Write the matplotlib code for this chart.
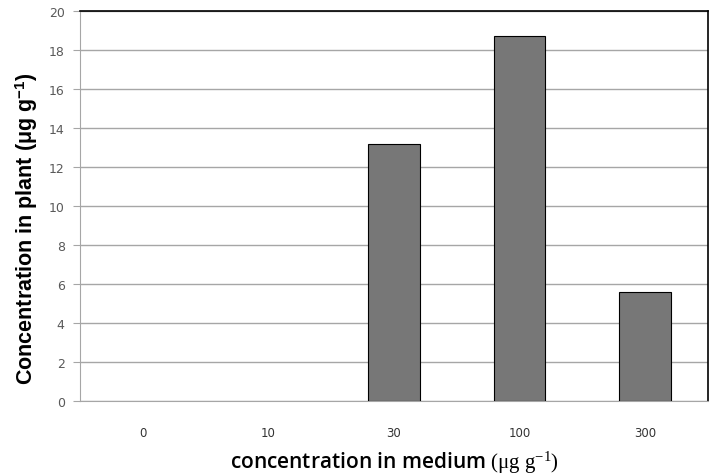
import matplotlib.pyplot as plt
import numpy as np

plt.rcParams['mathtext.fontset'] = 'custom'
plt.rcParams['mathtext.rm'] = 'Liberation Serif'
plt.rcParams['mathtext.bf'] = 'Liberation Sans:bold'
plt.rcParams['mathtext.it'] = 'Liberation Serif:italic'

# data
doses = ["0", "10", "30", "100", "300"]
plant_conc = [0.0, 0.0, 13.2, 18.7, 5.6]

fig = plt.figure(figsize=(7.18, 4.77), dpi=100)
ax = fig.add_axes([0.1114, 0.1572, 0.8746, 0.8176])

x = np.arange(len(doses))
edges = ['black' if v > 0 else 'none' for v in plant_conc]
ax.bar(x, plant_conc, width=0.41, color='#777777', edgecolor=edges, linewidth=0.8, zorder=3)

ax.set_xlim(-0.5, len(doses) - 0.5)
ax.set_ylim(0, 20)
ax.set_yticks(np.arange(0, 21, 2))
ax.set_xticks(x)
ax.set_xticklabels(doses)
ax.grid(axis='y', color='#a6a6a6', linewidth=1, zorder=0)

for s in ['left', 'bottom']:
    ax.spines[s].set_color('#a6a6a6')
for s in ['top', 'right']:
    ax.spines[s].set_color('black')
    ax.spines[s].set_linewidth(1.2)

ax.tick_params(axis='y', colors='#a6a6a6', labelcolor='#595959', labelsize=9, length=5, pad=6)
ax.tick_params(axis='x', length=0, labelcolor='#333333', labelsize=8.5, pad=18)
for t in ax.get_yticklabels() + ax.get_xticklabels():
    t.set_family('DejaVu Sans')

ax.set_ylabel(r'Concentration in plant (μg g$^{\mathbf{-1}}$)', fontsize=15.5,
              fontweight='bold', family='Liberation Sans', labelpad=6, y=0.445)
ax.set_xlabel(r'concentration in medium $\mathrm{(μg\ g^{-1})}$', fontsize=15,
              family='Open Sans', fontweight='semibold', labelpad=7)

fig.savefig('out.png', dpi=100)
